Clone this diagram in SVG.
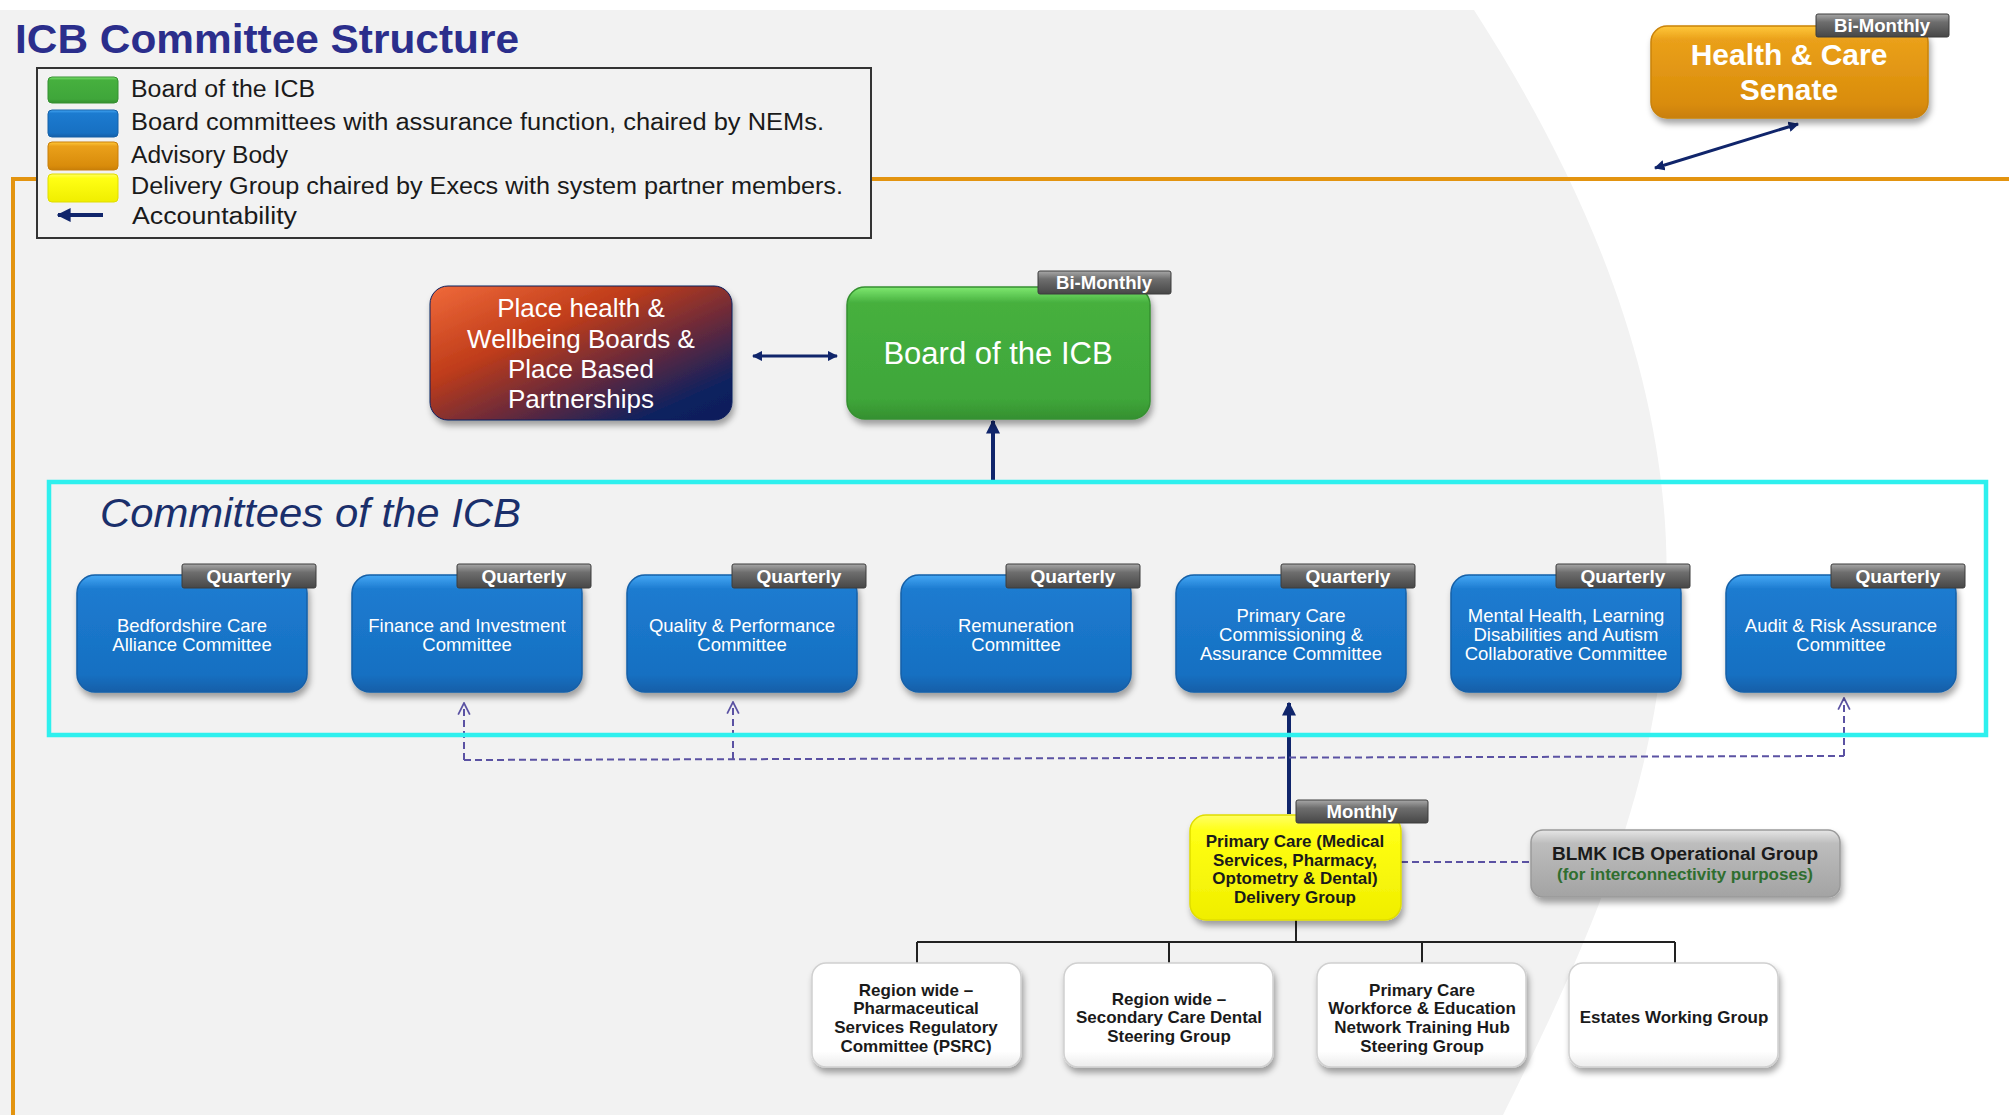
<svg xmlns="http://www.w3.org/2000/svg" width="2009" height="1115" viewBox="0 0 2009 1115">
<style>
.t{font-family:"Liberation Sans",Arial,sans-serif}
.wt{fill:#ffffff}
.bk{fill:#1a1a1a;font-weight:bold}
.leg{font-family:"Liberation Sans",Arial,sans-serif;font-size:23px;fill:#1a1a1a}
.tabt{font-family:"Liberation Sans",Arial,sans-serif;font-weight:bold;font-size:18px;fill:#ffffff}
.ctext{font-family:"Liberation Sans",Arial,sans-serif;font-size:18.5px;fill:#ffffff}
.btext{font-family:"Liberation Sans",Arial,sans-serif;font-size:17px;font-weight:bold;fill:#1a1a1a}
.tab{fill:url(#tabG);stroke:#3c3c3c;stroke-width:1}
.blue{fill:url(#blueG);stroke:#1460a8;stroke-width:1.5}
.wbox{fill:url(#whiteG);stroke:#d0d0d0;stroke-width:1.5}
.dash{fill:none;stroke:#5b52a3;stroke-width:2;stroke-dasharray:7,4}
.navy{fill:none;stroke:#10256b;stroke-width:4}
.tree{fill:none;stroke:#222222;stroke-width:2}
</style>
<defs>
<linearGradient id="tabG" x1="0" y1="0" x2="0" y2="1">
<stop offset="0" stop-color="#a8a8a8"/><stop offset="0.35" stop-color="#6e6e6e"/><stop offset="1" stop-color="#474747"/>
</linearGradient>
<linearGradient id="blueG" x1="0" y1="0" x2="0" y2="1">
<stop offset="0" stop-color="#45a8f5"/><stop offset="0.12" stop-color="#1c7bd0"/><stop offset="0.85" stop-color="#1770c2"/><stop offset="1" stop-color="#145fa8"/>
</linearGradient>
<linearGradient id="greenG" x1="0" y1="0" x2="0" y2="1">
<stop offset="0" stop-color="#7fe870"/><stop offset="0.12" stop-color="#46b03e"/><stop offset="0.85" stop-color="#3fa63a"/><stop offset="1" stop-color="#359030"/>
</linearGradient>
<linearGradient id="orangeG" x1="0" y1="0" x2="0" y2="1">
<stop offset="0" stop-color="#ffc83a"/><stop offset="0.15" stop-color="#eaa01a"/><stop offset="0.85" stop-color="#d98c0b"/><stop offset="1" stop-color="#c97f08"/>
</linearGradient>
<linearGradient id="yellowG" x1="0" y1="0" x2="0" y2="1">
<stop offset="0" stop-color="#ffff66"/><stop offset="0.15" stop-color="#ffff14"/><stop offset="1" stop-color="#f0ee00"/>
</linearGradient>
<linearGradient id="grayG" x1="0" y1="0" x2="0" y2="1">
<stop offset="0" stop-color="#e6e6e6"/><stop offset="0.2" stop-color="#bdbdbd"/><stop offset="1" stop-color="#a3a3a3"/>
</linearGradient>
<linearGradient id="whiteG" x1="0" y1="0" x2="0" y2="1">
<stop offset="0" stop-color="#ffffff"/><stop offset="0.85" stop-color="#ffffff"/><stop offset="1" stop-color="#ececec"/>
</linearGradient>
<linearGradient id="placeG" x1="0" y1="0" x2="1" y2="1">
<stop offset="0" stop-color="#f06a3a"/><stop offset="0.35" stop-color="#bf3c1a"/><stop offset="0.6" stop-color="#6a2a3a"/><stop offset="0.85" stop-color="#0e215f"/><stop offset="1" stop-color="#0a1d5a"/>
</linearGradient>
<filter id="sh" x="-10%" y="-10%" width="130%" height="140%">
<feDropShadow dx="2" dy="5" stdDeviation="3" flood-color="#000000" flood-opacity="0.35"/>
</filter>
<marker id="ah" viewBox="0 0 10 10" refX="9" refY="5" markerWidth="3.5" markerHeight="3.5" orient="auto-start-reverse">
<path d="M0,0 L10,5 L0,10 z" fill="#10256b"/>
</marker>
<marker id="ah2" viewBox="0 0 10 10" refX="9" refY="5" markerWidth="5" markerHeight="5" orient="auto-start-reverse">
<path d="M0,0 L10,5 L0,10 z" fill="#10256b"/>
</marker>
<marker id="open" viewBox="0 0 12 12" refX="11" refY="6" markerWidth="14" markerHeight="14" markerUnits="userSpaceOnUse" orient="auto">
<path d="M1,1 L11,6 L1,11" fill="none" stroke="#5b52a3" stroke-width="1.5"/>
</marker>
</defs>

<!-- background -->
<rect x="0" y="0" width="2009" height="1115" fill="#ffffff"/>
<path d="M0,10 H1474 C1590,190 1680,400 1665,620 C1655,800 1580,960 1503,1115 H0 Z" fill="#f2f2f2"/>

<!-- title -->
<text class="t" x="15" y="53" font-size="41" font-weight="bold" fill="#2b2e8c" textLength="504" lengthAdjust="spacingAndGlyphs">ICB Committee Structure</text>

<!-- orange frame line -->
<path d="M13,1115 V179 H2009" fill="none" stroke="#e39410" stroke-width="4"/>

<!-- legend -->
<g id="legend">
<rect x="37" y="68" width="834" height="170" fill="#f2f2f2" stroke="#333333" stroke-width="2"/>
<rect x="48" y="77" width="70" height="26" rx="4" fill="url(#greenG)" stroke="#359030"/>
<rect x="48" y="110" width="70" height="27" rx="4" fill="url(#blueG)" stroke="#1460a8"/>
<rect x="48" y="142" width="70" height="28" rx="4" fill="url(#orangeG)" stroke="#c97f08"/>
<rect x="48" y="174" width="70" height="28" rx="4" fill="url(#yellowG)" stroke="#e0dd00"/>
<line x1="103" y1="215" x2="58" y2="215" stroke="#10256b" stroke-width="4" marker-end="url(#ah)"/>
<text class="leg" x="131" y="97" textLength="184" lengthAdjust="spacingAndGlyphs">Board of the ICB</text>
<text class="leg" x="131" y="130" textLength="693" lengthAdjust="spacingAndGlyphs">Board committees with assurance function, chaired by NEMs.</text>
<text class="leg" x="131" y="163" textLength="157" lengthAdjust="spacingAndGlyphs">Advisory Body</text>
<text class="leg" x="131" y="194" textLength="712" lengthAdjust="spacingAndGlyphs">Delivery Group chaired by Execs with system partner members.</text>
<text class="leg" x="132" y="224" textLength="165" lengthAdjust="spacingAndGlyphs">Accountability</text>
</g>

<!-- connectors -->
<g id="connectors">
<line x1="1655" y1="168" x2="1798" y2="124" stroke="#10256b" stroke-width="3" marker-start="url(#ah)" marker-end="url(#ah)"/>
<line x1="753" y1="356" x2="837" y2="356" stroke="#10256b" stroke-width="3" marker-start="url(#ah)" marker-end="url(#ah)"/>
<line x1="993" y1="481" x2="993" y2="421" class="navy" marker-end="url(#ah)"/>
<line x1="1289" y1="814" x2="1289" y2="703" class="navy" marker-end="url(#ah)"/>
<path class="dash" d="M464,760 L1844,756"/>
<path class="dash" d="M464,760 V703" marker-end="url(#open)"/>
<path class="dash" d="M733,759 V702" marker-end="url(#open)"/>
<path class="dash" d="M1844,756 V698" marker-end="url(#open)"/>
<path class="dash" d="M1401,862 H1531"/>
<path class="tree" d="M1296,920 V942 M917,942 H1675 M917,942 V963 M1169,942 V963 M1422,942 V963 M1675,942 V963"/>
</g>

<!-- committees container -->
<g id="committees">
<rect x="49" y="482" width="1937" height="253" fill="none" stroke="#2ef0ee" stroke-width="4.5"/>
<text class="t" x="100" y="527" font-size="40" font-style="italic" fill="#1a2f6b" textLength="421" lengthAdjust="spacingAndGlyphs">Committees of the ICB</text>
</g>

<!-- senate -->
<g id="senate">
<rect x="1651" y="26" width="277" height="92" rx="16" fill="url(#orangeG)" stroke="#c98208" stroke-width="1.5" filter="url(#sh)"/>
<rect x="1816" y="14" width="133" height="23" rx="2" class="tab"/>
<text class="tabt" x="1882" y="32" text-anchor="middle" font-size="17" textLength="96" lengthAdjust="spacingAndGlyphs">Bi-Monthly</text>
<text class="t wt" x="1789" y="65" font-size="30" font-weight="bold" text-anchor="middle">Health &amp; Care</text>
<text class="t wt" x="1789" y="100" font-size="30" font-weight="bold" text-anchor="middle">Senate</text>
</g>

<!-- place -->
<g id="place">
<rect x="430" y="286" width="302" height="134" rx="18" fill="url(#placeG)" stroke="#0d1f5c" stroke-width="1" filter="url(#sh)"/>
<text class="t wt" font-size="26" text-anchor="middle"><tspan x="581" y="317">Place health &amp;</tspan><tspan x="581" y="348">Wellbeing Boards &amp;</tspan><tspan x="581" y="378">Place Based</tspan><tspan x="581" y="408">Partnerships</tspan></text>
</g>

<!-- board -->
<g id="board">
<rect x="847" y="287" width="303" height="132" rx="18" fill="url(#greenG)" stroke="#359030" stroke-width="1.5" filter="url(#sh)"/>
<rect x="1038" y="271" width="133" height="23" rx="2" class="tab"/>
<text class="tabt" x="1104" y="289" text-anchor="middle" font-size="17" textLength="96" lengthAdjust="spacingAndGlyphs">Bi-Monthly</text>
<text class="t wt" x="998" y="364" font-size="31" text-anchor="middle">Board of the ICB</text>
</g>

<!-- committee boxes -->
<g id="c1">
<rect x="77" y="575" width="230" height="117" rx="18" class="blue" filter="url(#sh)"/>
<rect x="182" y="564" width="134" height="24" rx="2" class="tab"/>
<text class="tabt" x="249" y="583" text-anchor="middle" textLength="85" lengthAdjust="spacingAndGlyphs">Quarterly</text>
<text class="ctext" text-anchor="middle"><tspan x="192" y="632">Bedfordshire Care</tspan><tspan x="192" y="651">Alliance Committee</tspan></text>
</g>
<g id="c2">
<rect x="352" y="575" width="230" height="117" rx="18" class="blue" filter="url(#sh)"/>
<rect x="457" y="564" width="134" height="24" rx="2" class="tab"/>
<text class="tabt" x="524" y="583" text-anchor="middle" textLength="85" lengthAdjust="spacingAndGlyphs">Quarterly</text>
<text class="ctext" text-anchor="middle"><tspan x="467" y="632">Finance and Investment</tspan><tspan x="467" y="651">Committee</tspan></text>
</g>
<g id="c3">
<rect x="627" y="575" width="230" height="117" rx="18" class="blue" filter="url(#sh)"/>
<rect x="732" y="564" width="134" height="24" rx="2" class="tab"/>
<text class="tabt" x="799" y="583" text-anchor="middle" textLength="85" lengthAdjust="spacingAndGlyphs">Quarterly</text>
<text class="ctext" text-anchor="middle"><tspan x="742" y="632">Quality &amp; Performance</tspan><tspan x="742" y="651">Committee</tspan></text>
</g>
<g id="c4">
<rect x="901" y="575" width="230" height="117" rx="18" class="blue" filter="url(#sh)"/>
<rect x="1006" y="564" width="134" height="24" rx="2" class="tab"/>
<text class="tabt" x="1073" y="583" text-anchor="middle" textLength="85" lengthAdjust="spacingAndGlyphs">Quarterly</text>
<text class="ctext" text-anchor="middle"><tspan x="1016" y="632">Remuneration</tspan><tspan x="1016" y="651">Committee</tspan></text>
</g>
<g id="c5">
<rect x="1176" y="575" width="230" height="117" rx="18" class="blue" filter="url(#sh)"/>
<rect x="1281" y="564" width="134" height="24" rx="2" class="tab"/>
<text class="tabt" x="1348" y="583" text-anchor="middle" textLength="85" lengthAdjust="spacingAndGlyphs">Quarterly</text>
<text class="ctext" text-anchor="middle"><tspan x="1291" y="622">Primary Care</tspan><tspan x="1291" y="641">Commissioning &amp;</tspan><tspan x="1291" y="660">Assurance Committee</tspan></text>
</g>
<g id="c6">
<rect x="1451" y="575" width="230" height="117" rx="18" class="blue" filter="url(#sh)"/>
<rect x="1556" y="564" width="134" height="24" rx="2" class="tab"/>
<text class="tabt" x="1623" y="583" text-anchor="middle" textLength="85" lengthAdjust="spacingAndGlyphs">Quarterly</text>
<text class="ctext" text-anchor="middle"><tspan x="1566" y="622">Mental Health, Learning</tspan><tspan x="1566" y="641">Disabilities and Autism</tspan><tspan x="1566" y="660">Collaborative Committee</tspan></text>
</g>
<g id="c7">
<rect x="1726" y="575" width="230" height="117" rx="18" class="blue" filter="url(#sh)"/>
<rect x="1831" y="564" width="134" height="24" rx="2" class="tab"/>
<text class="tabt" x="1898" y="583" text-anchor="middle" textLength="85" lengthAdjust="spacingAndGlyphs">Quarterly</text>
<text class="ctext" text-anchor="middle"><tspan x="1841" y="632">Audit &amp; Risk Assurance</tspan><tspan x="1841" y="651">Committee</tspan></text>
</g>

<!-- delivery group -->
<g id="delivery">
<rect x="1190" y="815" width="211" height="105" rx="16" fill="url(#yellowG)" stroke="#e0dd00" stroke-width="1.5" filter="url(#sh)"/>
<rect x="1296" y="800" width="132" height="23" rx="2" class="tab"/>
<text class="tabt" x="1362" y="818" text-anchor="middle" font-size="18" textLength="71" lengthAdjust="spacingAndGlyphs">Monthly</text>
<text class="btext" text-anchor="middle"><tspan x="1295" y="847">Primary Care (Medical</tspan><tspan x="1295" y="866">Services, Pharmacy,</tspan><tspan x="1295" y="884">Optometry &amp; Dental)</tspan><tspan x="1295" y="903">Delivery Group</tspan></text>
</g>

<!-- operational group -->
<g id="blmk">
<rect x="1531" y="830" width="309" height="67" rx="12" fill="url(#grayG)" stroke="#9a9a9a" stroke-width="1.5" filter="url(#sh)"/>
<text class="t" x="1685" y="860" font-size="18" font-weight="bold" fill="#1a1a1a" text-anchor="middle" textLength="266" lengthAdjust="spacingAndGlyphs">BLMK ICB Operational Group</text>
<text class="t" x="1685" y="880" font-size="16" font-weight="bold" fill="#2f6e2f" text-anchor="middle" textLength="256" lengthAdjust="spacingAndGlyphs">(for interconnectivity purposes)</text>
</g>

<!-- sub groups -->
<g id="psrc">
<rect x="812" y="963" width="209" height="104" rx="14" class="wbox" filter="url(#sh)"/>
<text class="btext" text-anchor="middle"><tspan x="916" y="996">Region wide –</tspan><tspan x="916" y="1014">Pharmaceutical</tspan><tspan x="916" y="1033">Services Regulatory</tspan><tspan x="916" y="1052">Committee (PSRC)</tspan></text>
</g>
<g id="dental">
<rect x="1064" y="963" width="209" height="104" rx="14" class="wbox" filter="url(#sh)"/>
<text class="btext" text-anchor="middle"><tspan x="1169" y="1005">Region wide –</tspan><tspan x="1169" y="1023">Secondary Care Dental</tspan><tspan x="1169" y="1042">Steering Group</tspan></text>
</g>
<g id="workforce">
<rect x="1317" y="963" width="209" height="104" rx="14" class="wbox" filter="url(#sh)"/>
<text class="btext" text-anchor="middle"><tspan x="1422" y="996">Primary Care</tspan><tspan x="1422" y="1014">Workforce &amp; Education</tspan><tspan x="1422" y="1033">Network Training Hub</tspan><tspan x="1422" y="1052">Steering Group</tspan></text>
</g>
<g id="estates">
<rect x="1569" y="963" width="209" height="104" rx="14" class="wbox" filter="url(#sh)"/>
<text class="btext" text-anchor="middle"><tspan x="1674" y="1023">Estates Working Group</tspan></text>
</g>
</svg>
